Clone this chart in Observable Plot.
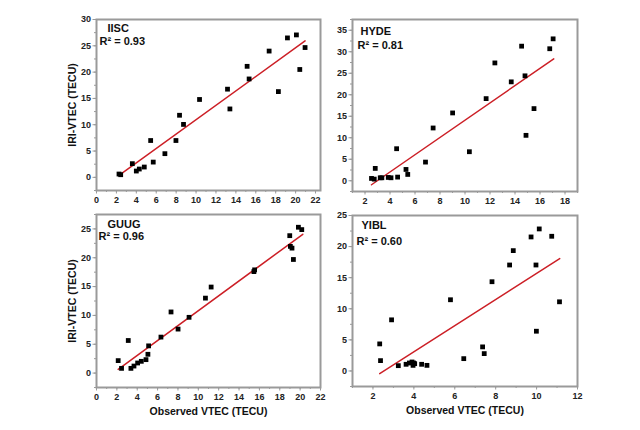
<!DOCTYPE html>
<html>
<head>
<meta charset="utf-8">
<script src="https://cdn.jsdelivr.net/npm/d3@7"></script>
<script src="https://cdn.jsdelivr.net/npm/@observablehq/plot@0.6"></script>
<style>
  body { margin: 0; background: #fff; }
  #chart { position: relative; width: 640px; height: 430px; overflow: hidden; }
  #chart svg { position: absolute; }
</style>
</head>
<body>
<div id="chart"></div>
<script>
// values
const stations = ["IISC", "HYDE", "GUUG", "YIBL"];
const r2Values = ["0.93", "0.81", "0.96", "0.60"];

const iiscObs = [2.26, 2.43, 3.6, 4.0, 4.3, 4.8, 5.44, 5.7, 6.87, 7.98, 8.34, 8.74, 10.35, 13.16, 13.4, 15.13, 15.33, 17.34, 18.27, 19.18, 20.08, 20.42, 20.95];
const iiscIri = [0.63, 0.5, 2.6, 1.2, 1.58, 1.96, 7.0, 2.9, 4.5, 7.0, 11.8, 10.06, 14.8, 16.76, 13.0, 21.1, 18.7, 24.0, 16.3, 26.5, 27.07, 20.5, 24.67];

const hydeObs = [2.52, 2.74, 2.82, 3.22, 3.35, 3.86, 4.08, 4.53, 4.61, 5.28, 5.42, 6.84, 7.45, 9.01, 10.35, 11.69, 12.39, 13.7, 14.53, 14.8, 14.88, 15.52, 16.78, 17.05];
const hydeIri = [0.54, 0.38, 2.87, 0.69, 0.69, 0.77, 0.69, 7.45, 0.85, 2.63, 1.47, 4.34, 12.27, 15.77, 6.75, 19.1, 27.4, 23.0, 31.3, 24.4, 10.56, 16.78, 30.7, 33.0];

const guugObs = [2.13, 2.46, 3.12, 3.38, 3.68, 4.04, 4.4, 4.86, 5.05, 5.12, 6.33, 7.32, 8.01, 9.09, 10.7, 11.26, 15.46, 15.53, 18.98, 19.04, 19.2, 19.34, 19.83, 20.16];
const guugIri = [2.16, 0.82, 5.65, 0.82, 1.22, 1.75, 2.04, 2.33, 3.26, 4.72, 6.24, 10.6, 7.63, 9.67, 13.0, 14.92, 17.6, 17.9, 23.83, 21.97, 21.67, 19.7, 25.29, 24.88];

const yiblObs = [2.33, 2.37, 2.91, 3.24, 3.62, 3.78, 3.91, 3.96, 3.99, 4.04, 4.38, 4.64, 5.79, 6.44, 7.36, 7.44, 7.82, 8.68, 8.86, 9.73, 9.97, 9.99, 10.13, 10.74, 11.12];
const yiblIri = [4.35, 1.66, 8.22, 0.85, 1.07, 1.28, 1.44, 0.9, 1.28, 1.17, 1.07, 0.9, 11.45, 1.98, 3.87, 2.79, 14.35, 17.04, 19.35, 21.55, 17.04, 6.39, 22.84, 21.66, 11.12];

// fitted lines: [start, end] of each red line
const fitObs = [[2.33, 20.95], [2.52, 17.1], [2.13, 20.26], [2.33, 11.13]];
const fitIri = [[0.45, 25.93], [-0.93, 28.35], [0.64, 24.07], [-0.44, 18.06]];

const xLabel = "Observed VTEC (TECU)";
const yLabel = "IRI-VTEC (TECU)";

const FONT = "'Liberation Sans', Arial, sans-serif";
const FRAME_GRAY = "#9a9a9a";
const FIT_RED = "#cc1f26";

const panels = [
  { obs: iiscObs, iri: iiscIri, left: 0, top: 0, width: 330, height: 205,
    margins: [19, 10, 15, 96], xDomain: [0, 22.5], yDomain: [-2.5, 30],
    name: [11, 9], r2: [3, 22], yTitle: true, xTitle: false },
  { obs: hydeObs, iri: hydeIri, left: 330, top: 0, width: 310, height: 205,
    margins: [19, 63, 14, 22], xDomain: [1, 19], yDomain: [-2.5, 37.5],
    name: [8, 12], r2: [5, 26], yTitle: false, xTitle: false },
  { obs: guugObs, iri: guugIri, left: 0, top: 205, width: 330, height: 225,
    margins: [9, 10, 43, 96], xDomain: [0, 22], yDomain: [-2.5, 27.5],
    name: [11, 10], r2: [2, 22], yTitle: true, xTitle: true },
  { obs: yiblObs, iri: yiblIri, left: 330, top: 205, width: 310, height: 225,
    margins: [10, 63, 44, 22], xDomain: [1, 12], yDomain: [-2.5, 25],
    name: [9, 10], r2: [4, 26], yTitle: false, xTitle: true }
];

function stepTicks([lo, hi], step) {
  return d3.range(Math.ceil(lo / step) * step, hi + 1e-9, step);
}

function makePanel(p, i) {
  let points = p.obs.map((d, j) => ({ obs: d, iri: p.iri[j] }));
  let fit = fitObs[i].map((d, j) => ({ obs: d, iri: fitIri[i][j] }));
  let [mt, mr, mb, ml] = p.margins;

  let marks = [
    // minor ticks
    Plot.axisX({ ticks: stepTicks(p.xDomain, 1), tickSize: 2, tickFormat: () => "", label: null, stroke: FRAME_GRAY }),
    Plot.axisY({ ticks: stepTicks(p.yDomain, 2.5), tickSize: 2, tickFormat: () => "", label: null, stroke: FRAME_GRAY }),
    // major ticks
    Plot.axisX({ ticks: stepTicks(p.xDomain, 2), tickSize: 3.5, tickPadding: 3, label: null,
      stroke: FRAME_GRAY, fill: "#222", fontWeight: "bold", fontSize: 9 }),
    Plot.axisY({ ticks: stepTicks(p.yDomain, 5), tickSize: 3.5, tickPadding: 2, label: null,
      stroke: FRAME_GRAY, fill: "#222", fontWeight: "bold", fontSize: 9 }),
    Plot.line(fit, { x: "obs", y: "iri", stroke: FIT_RED, strokeWidth: 1.5 }),
    Plot.dot(points, { x: "obs", y: "iri", symbol: "square", r: 2.7, fill: "#000", stroke: null }),
    Plot.text([stations[i]], { frameAnchor: "top-left", textAnchor: "start", lineAnchor: "middle",
      dx: p.name[0], dy: p.name[1], fontSize: 11, fontWeight: "bold", fill: "#111" }),
    Plot.text([`R² = ${r2Values[i]}`], { frameAnchor: "top-left", textAnchor: "start", lineAnchor: "middle",
      dx: p.r2[0], dy: p.r2[1], fontSize: 11, fontWeight: "bold", fill: "#111" }),
    Plot.frame({ stroke: FRAME_GRAY, strokeWidth: 2 })
  ];

  if (p.yTitle) {
    marks.push(Plot.text([yLabel], { frameAnchor: "left", rotate: -90, textAnchor: "middle", lineAnchor: "middle",
      dx: -24, fontSize: 10.5, fontWeight: "bold", fill: "#111" }));
  }
  if (p.xTitle) {
    marks.push(Plot.text([xLabel], { frameAnchor: "bottom", textAnchor: "middle", lineAnchor: "middle",
      dy: 24, fontSize: 10.5, fontWeight: "bold", fill: "#111" }));
  }

  let svg = Plot.plot({
    width: p.width,
    height: p.height,
    marginTop: mt, marginRight: mr, marginBottom: mb, marginLeft: ml,
    style: { fontFamily: FONT, background: "transparent", overflow: "visible" },
    x: { domain: p.xDomain },
    y: { domain: p.yDomain },
    marks: marks
  });
  svg.style.left = p.left + "px";
  svg.style.top = p.top + "px";
  return svg;
}

let chart = document.getElementById("chart");
panels.forEach((p, i) => chart.append(makePanel(p, i)));
</script>
</body>
</html>
